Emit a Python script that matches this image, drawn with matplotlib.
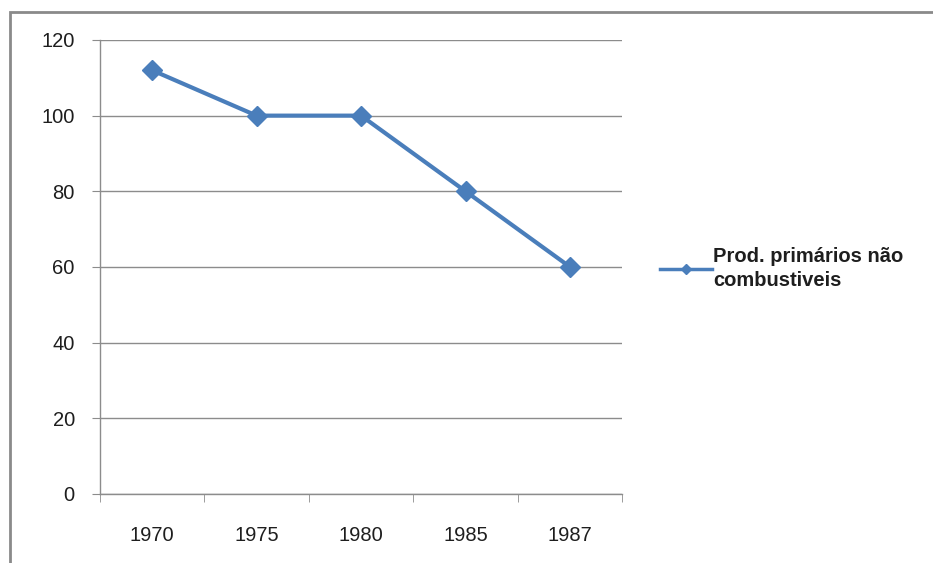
import matplotlib.pyplot as plt
from matplotlib.lines import Line2D
from matplotlib.patches import Rectangle

# dados do gráfico
anos = ["1970", "1975", "1980", "1985", "1987"]
valores = [112, 100, 100, 80, 60]
serie = "Prod. primários não\ncombustiveis"
yticks = [0, 20, 40, 60, 80, 100, 120]

plt.rcParams["font.family"] = ["Liberation Sans", "DejaVu Sans"]
cor = "#4a7ebb"
cor_texto = "#1e1e1e"

fig = plt.figure(figsize=(9.33, 5.63), dpi=100)
ax = fig.add_axes([0.107, 0.1226, 0.56, 0.8064])

x = list(range(len(anos)))
ax.plot(x, valores, color=cor, linewidth=3, marker="D", markersize=10,
        markerfacecolor=cor, markeredgecolor=cor, zorder=3)

ax.set_xlim(-0.5, len(anos) - 0.5)
ax.set_ylim(0, 120)
ax.set_yticks(yticks)
ax.set_xticks(x)
ax.set_xticklabels(anos)
ax.set_xticks([i - 0.5 for i in range(len(anos) + 1)], minor=True)

ax.grid(axis="y", color="#8c8c8c", linewidth=1)
ax.set_axisbelow(True)
for s in ["top", "right"]:
    ax.spines[s].set_visible(False)
for s in ["left", "bottom"]:
    ax.spines[s].set_color("#8c8c8c")
    ax.spines[s].set_linewidth(1)

ax.tick_params(axis="x", which="major", length=0, pad=23, labelsize=14.5, labelcolor=cor_texto)
ax.tick_params(axis="x", which="minor", length=6, color="#8c8c8c", direction="out")
ax.tick_params(axis="y", length=6, color="#8c8c8c", pad=12, labelsize=14.5, labelcolor=cor_texto)

handle = Line2D([], [], color=cor, linewidth=2.5, marker="D", markersize=5)
leg = fig.legend([handle], [serie], loc="center left", bbox_to_anchor=(0.6875, 0.523),
                 frameon=False, handlelength=2.6, handletextpad=0.05,
                 prop={"size": 14.5, "weight": "bold"}, labelspacing=0.2)
for t in leg.get_texts():
    t.set_color(cor_texto)
    t.set_linespacing(1.3)

# moldura à volta do gráfico
fig.patches.append(Rectangle((10 / 933, -0.05), 1.0, 1 - 12 / 563 + 0.05,
                             transform=fig.transFigure, fill=False,
                             edgecolor="#8a8a8a", linewidth=2))

fig.savefig("out.png", dpi=100)
